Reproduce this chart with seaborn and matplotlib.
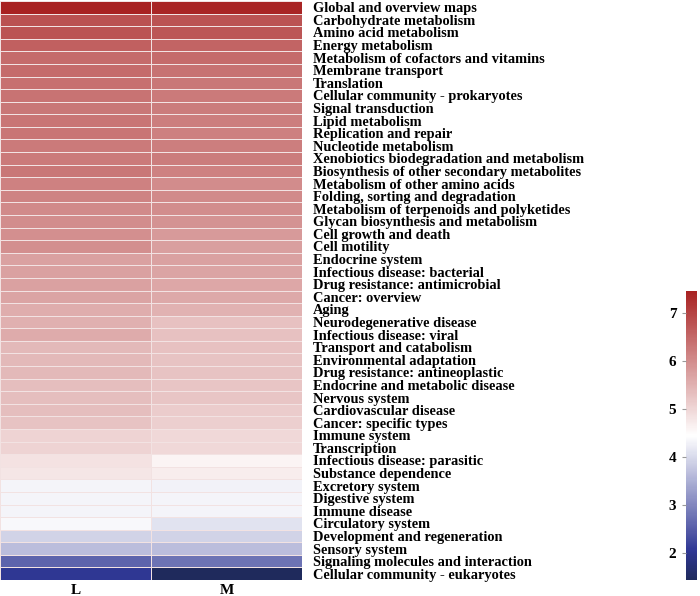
import pandas as pd
import matplotlib
matplotlib.use("Agg")
import matplotlib.pyplot as plt
import seaborn as sns
from matplotlib.colors import LinearSegmentedColormap

# Các nhóm chức năng (KEGG level 2)
pathways = [
    "Global and overview maps", "Carbohydrate metabolism", "Amino acid metabolism",
    "Energy metabolism", "Metabolism of cofactors and vitamins", "Membrane transport",
    "Translation", "Cellular community - prokaryotes", "Signal transduction",
    "Lipid metabolism", "Replication and repair", "Nucleotide metabolism",
    "Xenobiotics biodegradation and metabolism", "Biosynthesis of other secondary metabolites",
    "Metabolism of other amino acids", "Folding, sorting and degradation",
    "Metabolism of terpenoids and polyketides", "Glycan biosynthesis and metabolism",
    "Cell growth and death", "Cell motility", "Endocrine system",
    "Infectious disease: bacterial", "Drug resistance: antimicrobial", "Cancer: overview",
    "Aging", "Neurodegenerative disease", "Infectious disease: viral",
    "Transport and catabolism", "Environmental adaptation", "Drug resistance: antineoplastic",
    "Endocrine and metabolic disease", "Nervous system", "Cardiovascular disease",
    "Cancer: specific types", "Immune system", "Transcription",
    "Infectious disease: parasitic", "Substance dependence", "Excretory system",
    "Digestive system", "Immune disease", "Circulatory system",
    "Development and regeneration", "Sensory system", "Signaling molecules and interaction",
    "Cellular community - eukaryotes",
]
samples = ["L", "M"]

vals_L = [7.46, 6.82, 6.78, 6.60, 6.47, 6.45, 6.38, 6.35, 6.30, 6.33,
          6.32, 6.26, 6.26, 6.30, 6.15, 6.13, 6.03, 5.99, 5.96, 5.96,
          5.74, 5.74, 5.72, 5.69, 5.57, 5.53, 5.59, 5.40, 5.40, 5.40,
          5.34, 5.34, 5.34, 5.25, 5.06, 5.04, 4.83, 4.80, 4.31, 4.32,
          4.33, 4.37, 3.91, 3.66, 2.58, 2.04]
vals_M = [7.40, 6.80, 6.74, 6.55, 6.45, 6.37, 6.30, 6.25, 6.22, 6.21,
          6.18, 6.21, 6.22, 6.15, 6.01, 6.04, 5.99, 5.91, 5.83, 5.76,
          5.72, 5.69, 5.63, 5.61, 5.49, 5.28, 5.28, 5.28, 5.25, 5.25,
          5.23, 5.23, 5.14, 5.09, 4.98, 4.98, 4.61, 4.70, 4.30, 4.31,
          4.32, 4.10, 3.91, 3.66, 2.76, 1.44]

df = pd.DataFrame({"L": vals_L, "M": vals_M}, index=pathways)[samples]

cmap = LinearSegmentedColormap.from_list(
    "bwr_custom",
    [(0.0, "#1f2a5c"), (0.1, "#2f3794"), (0.5, "#ffffff"), (1.0, "#a82222")])

fig = plt.figure(figsize=(7, 5.96), dpi=100)
ax = fig.add_axes([0.0, 0.0268, 0.4314, 0.9715])
cax = fig.add_axes([0.98, 0.0268, 0.0157, 0.485])

sns.heatmap(df, ax=ax, cbar_ax=cax, cmap=cmap, vmin=1.44, vmax=7.46,
            linewidths=0.6, linecolor="#f2e2e2")

font = ["Liberation Serif", "DejaVu Serif"]
ax.yaxis.tick_right()
ax.set_yticks([i + 0.5 for i in range(len(pathways))])
ax.set_yticklabels(pathways, rotation=0, fontsize=10.4, fontweight="bold", family=font)
ax.set_xticklabels(samples, rotation=0, fontsize=11, fontweight="bold", family=font)
ax.tick_params(axis="both", length=0, pad=3)
ax.tick_params(axis="y", pad=8)
ax.set_xlabel("")
ax.set_ylabel("")

cax.yaxis.tick_left()
cax.set_yticks([2, 3, 4, 5, 6, 7])
cax.set_yticklabels(["2", "3", "4", "5", "6", "7"], fontsize=11, fontweight="bold", family=font)
cax.tick_params(axis="y", length=3, color="#999999", pad=4)
for s in cax.spines.values():
    s.set_visible(False)

fig.savefig("out.png", dpi=100)
